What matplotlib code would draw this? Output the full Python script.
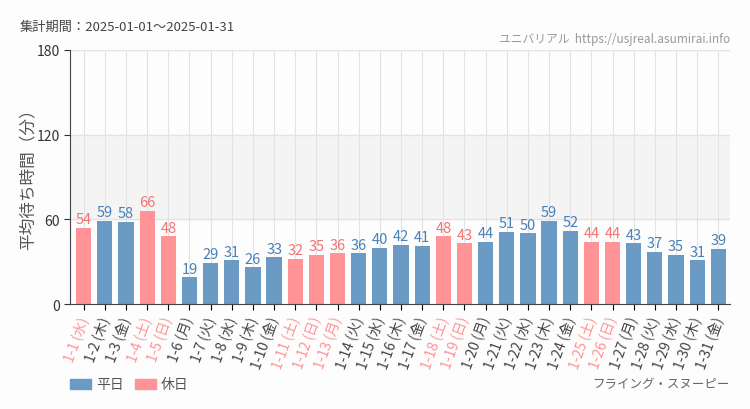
import matplotlib.pyplot as plt
import numpy as np

plt.rcParams['font.family'] = ['Noto Sans CJK JP', 'DejaVu Sans']

days = [f'1-{d}' for d in range(1, 32)]
weekdays = ['水', '木', '金', '土', '日', '月', '火'] * 5
weekdays = weekdays[:31]
waits = [54, 59, 58, 66, 48, 19, 29, 31, 26, 33, 32, 35, 36, 36, 40, 42,
         41, 48, 43, 44, 51, 50, 59, 52, 44, 44, 43, 37, 35, 31, 39]
holidays = ['1-1', '1-4', '1-5', '1-11', '1-12', '1-13', '1-18', '1-19',
            '1-25', '1-26']

blue = '#6b9ac5'
pink = '#ff9396'
blue_txt = '#4a80b8'
pink_txt = '#f27474'

fig = plt.figure(figsize=(7.5, 4.1), dpi=100, facecolor='#fcfdfc')
ax = fig.add_axes([0.0933, 0.256, 0.880, 0.620])
ax.set_facecolor('#fcfdfc')

x = np.arange(len(days))
is_hol = [d in holidays for d in days]
colors = [pink if h else blue for h in is_hol]

ax.axhspan(60, 120, color='#f3f4f3', zorder=0)
for xi in x:
    ax.axvline(xi, color='#e3e3e3', lw=0.8, zorder=1)
for yv in [60, 120, 180]:
    ax.axhline(yv, color='#e3e3e3', lw=1, zorder=1)

ax.bar(x, waits, width=0.72, color=colors, zorder=2)
for xi, v, h in zip(x, waits, is_hol):
    ax.text(xi, v + 1.2, str(v), ha='center', va='bottom', fontsize=10.5,
            color=pink_txt if h else blue_txt, zorder=3)

ax.set_xlim(-0.65, 30.55)
ax.set_ylim(0, 180)
ax.set_yticks([0, 60, 120, 180])
ax.tick_params(axis='y', labelsize=10, colors='#333333', length=4)
ax.set_xticks(x)
labels = ax.set_xticklabels([f'{d} ({w})' for d, w in zip(days, weekdays)],
                            rotation=70, ha='right', va='center',
                            rotation_mode='anchor', fontsize=10)
for lab, h in zip(labels, is_hol):
    lab.set_color(pink if h else '#444444')
ax.tick_params(axis='x', length=4, pad=5)

for s in ['top', 'right']:
    ax.spines[s].set_visible(False)
ax.spines['left'].set_color('#444444')
ax.spines['bottom'].set_color('#444444')

fig.text(28 / 750, 1 - 175 / 410, '平均待ち時間（分）', rotation=90,
         fontsize=12, color='#555555', ha='center', va='center')

fig.text(20 / 750, 1 - 27 / 410, '集計期間：2025-01-01～2025-01-31',
         fontsize=9.5, color='#444444', va='center', ha='left')
fig.text(730 / 750, 1 - 40 / 410,
         'ユニバリアル  https://usjreal.asumirai.info',
         fontsize=8.5, color='#999999', va='center', ha='right')
fig.text(730 / 750, 1 - 385 / 410, 'フライング・スヌーピー',
         fontsize=9, color='#666666', va='center', ha='right')

# legend
fig.patches.append(plt.Rectangle((70 / 750, 1 - 390 / 410), 21 / 750, 10 / 410,
                                 transform=fig.transFigure, color=blue))
fig.text(96 / 750, 1 - 385 / 410, '平日', fontsize=10, color='#555555',
         va='center')
fig.patches.append(plt.Rectangle((135 / 750, 1 - 390 / 410), 21 / 750, 10 / 410,
                                 transform=fig.transFigure, color=pink))
fig.text(161 / 750, 1 - 385 / 410, '休日', fontsize=10, color='#555555',
         va='center')

fig.savefig('out.png', dpi=100, facecolor=fig.get_facecolor())
